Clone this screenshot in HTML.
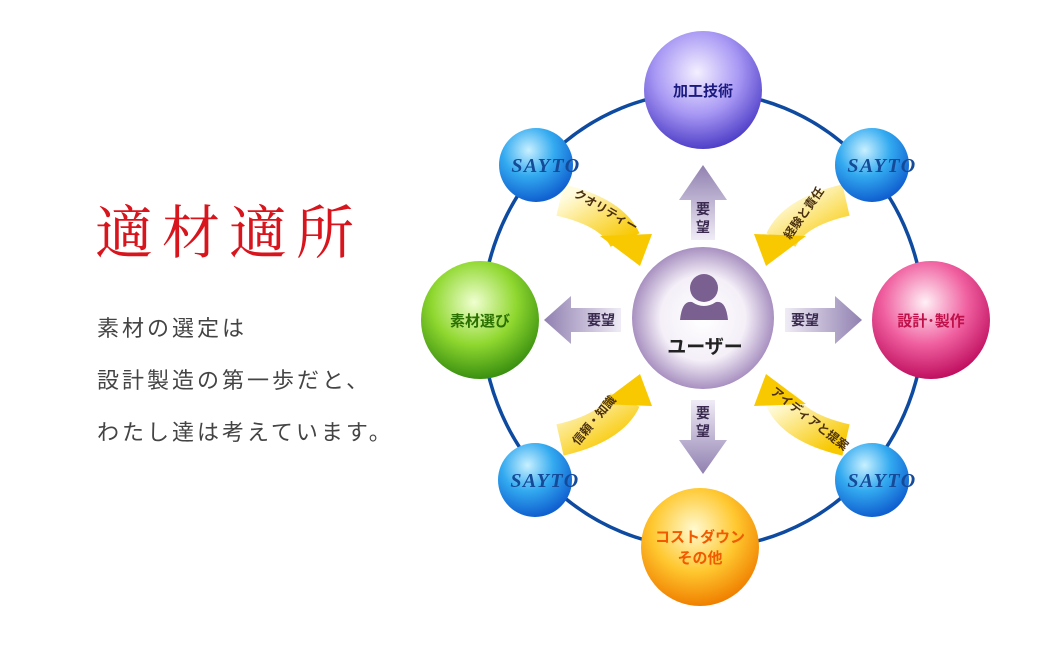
<!DOCTYPE html>
<html><head><meta charset="utf-8"><style>
body{margin:0;width:1050px;height:650px;background:#fff;overflow:hidden;position:relative;font-family:"Liberation Sans","Noto Sans CJK JP",sans-serif}
.t{position:absolute;left:95px;top:186px;font-family:"Liberation Serif","Noto Serif CJK SC",serif;color:#d8141c;font-size:58px;letter-spacing:9px;white-space:nowrap}
.b{position:absolute;left:97px;top:303px;color:#444;font-size:22px;line-height:52px;letter-spacing:3px;white-space:nowrap}
</style></head><body>
<div class="t">適材適所</div>
<div class="b">素材の選定は<br>設計製造の第一歩だと、<br>わたし達は考えています。</div>
<svg width="1050" height="650" style="position:absolute;left:0;top:0" font-family="Liberation Sans, Noto Sans CJK JP, sans-serif">
<defs>
<radialGradient id="gb" cx="40%" cy="30%" r="70%"><stop offset="0" stop-color="#c8f0ff"/><stop offset=".5" stop-color="#33aaf0"/><stop offset="1" stop-color="#1060d0"/></radialGradient>
<radialGradient id="gp" cx="45%" cy="35%" r="65%"><stop offset="0" stop-color="#f4f0ff"/><stop offset=".55" stop-color="#a898f4"/><stop offset="1" stop-color="#5040c8"/></radialGradient>
<radialGradient id="gg" cx="45%" cy="35%" r="65%"><stop offset="0" stop-color="#f0ffd0"/><stop offset=".55" stop-color="#90d830"/><stop offset="1" stop-color="#3a9010"/></radialGradient>
<radialGradient id="gr" cx="45%" cy="35%" r="65%"><stop offset="0" stop-color="#fff0f6"/><stop offset=".55" stop-color="#f060a0"/><stop offset="1" stop-color="#c01060"/></radialGradient>
<radialGradient id="go" cx="45%" cy="35%" r="65%"><stop offset="0" stop-color="#fffad0"/><stop offset=".55" stop-color="#ffc830"/><stop offset="1" stop-color="#f08000"/></radialGradient>
<radialGradient id="gu" cx="50%" cy="50%" r="50%"><stop offset="0" stop-color="#fff"/><stop offset=".6" stop-color="#f4eff8"/><stop offset="1" stop-color="#a890c0"/></radialGradient>
<linearGradient id="ay" x1="0" y1="0" x2="1" y2="1"><stop offset="0" stop-color="#fffce0"/><stop offset="1" stop-color="#f8c800"/></linearGradient>
<linearGradient id="av" x1="0" y1="0" x2="0" y2="1"><stop offset="0" stop-color="#f0ecf6"/><stop offset="1" stop-color="#9080b0"/></linearGradient>
<linearGradient id="ah" x1="0" y1="0" x2="1" y2="0"><stop offset="0" stop-color="#f0ecf6"/><stop offset="1" stop-color="#9080b0"/></linearGradient>
<linearGradient id="ah2" x1="1" y1="0" x2="0" y2="0"><stop offset="0" stop-color="#f0ecf6"/><stop offset="1" stop-color="#9080b0"/></linearGradient>
<linearGradient id="av2" x1="0" y1="1" x2="0" y2="0"><stop offset="0" stop-color="#f0ecf6"/><stop offset="1" stop-color="#9080b0"/></linearGradient>
</defs>
<ellipse cx="703" cy="320" rx="221" ry="228" fill="none" stroke="#0d4aa0" stroke-width="3.5"/>
<g fill="none" stroke="url(#ay)" stroke-width="32">
<path d="M560 200 Q612 212 625 240"/>
<path d="M846 200 Q794 212 781 240"/>
<path d="M560 440 Q612 428 625 400"/>
<path d="M846 440 Q794 428 781 400"/>
</g>
<g fill="#f8c800">
<polygon points="600,236 652,234 640,266"/>
<polygon points="806,236 754,234 766,266"/>
<polygon points="600,404 652,406 640,374"/>
<polygon points="806,404 754,406 766,374"/>
</g>
<g font-size="12" font-weight="bold" fill="#4a3010">
<text x="573" y="196" transform="rotate(30 573 196)">クオリティー</text>
<text x="790" y="240" transform="rotate(-55 790 240)">経験と責任</text>
<text x="578" y="446" transform="rotate(-50 578 446)">信頼・知識</text>
<text x="770" y="393" transform="rotate(38 770 393)">アイディアと提案</text>
</g>
<polygon points="691,240 691,200 679,200 703,165 727,200 715,200 715,240" fill="url(#av2)"/>
<polygon points="691,400 691,440 679,440 703,474 727,440 715,440 715,400" fill="url(#av)"/>
<polygon points="785,308 835,308 835,296 862,320 835,344 835,332 785,332" fill="url(#ah)"/>
<polygon points="621,308 571,308 571,296 544,320 571,344 571,332 621,332" fill="url(#ah2)"/>
<g font-size="14" font-weight="bold" fill="#3a2a50">
<text x="703" y="214" text-anchor="middle">要</text><text x="703" y="232" text-anchor="middle">望</text>
<text x="703" y="418" text-anchor="middle">要</text><text x="703" y="436" text-anchor="middle">望</text>
<text x="805" y="325" text-anchor="middle">要望</text>
<text x="601" y="325" text-anchor="middle">要望</text>
</g>
<circle cx="703" cy="318" r="71" fill="url(#gu)"/>
<circle cx="704" cy="288" r="14" fill="#7a6090"/>
<path d="M680 320 Q682 300 692 302 Q704 310 716 302 Q726 300 728 320 Z" fill="#7a6090"/>
<text x="705" y="353" text-anchor="middle" font-size="19" font-weight="bold" fill="#222">ユーザー</text>
<circle cx="703" cy="90" r="59" fill="url(#gp)"/>
<text x="703" y="96" text-anchor="middle" font-size="15" font-weight="bold" fill="#1a1a80">加工技術</text>
<circle cx="480" cy="320" r="59" fill="url(#gg)"/>
<text x="480" y="326" text-anchor="middle" font-size="15" font-weight="bold" fill="#2a7000">素材選び</text>
<circle cx="931" cy="320" r="59" fill="url(#gr)"/>
<text x="931" y="326" text-anchor="middle" font-size="15" font-weight="bold" fill="#c0104a">設計･製作</text>
<circle cx="700" cy="547" r="59" fill="url(#go)"/>
<text x="700" y="542" text-anchor="middle" font-size="15" font-weight="bold" fill="#f05a00">コストダウン</text>
<text x="700" y="563" text-anchor="middle" font-size="15" font-weight="bold" fill="#f05a00">その他</text>
<g font-family="Liberation Serif, serif" font-style="italic" font-weight="bold" font-size="20" fill="#154a98" text-anchor="middle" letter-spacing="1.5">
<circle cx="536" cy="165" r="37" fill="url(#gb)"/><text x="546" y="172">SAYTO</text>
<circle cx="872" cy="165" r="37" fill="url(#gb)"/><text x="882" y="172">SAYTO</text>
<circle cx="535" cy="480" r="37" fill="url(#gb)"/><text x="545" y="487">SAYTO</text>
<circle cx="872" cy="480" r="37" fill="url(#gb)"/><text x="882" y="487">SAYTO</text>
</g>
</svg>
</body></html>
